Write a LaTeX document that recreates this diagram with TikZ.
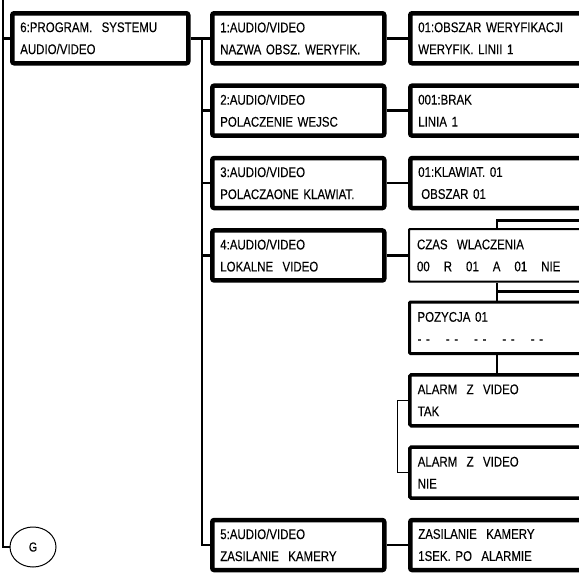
\documentclass[tikz,border=0pt]{standalone}
\usepackage{fontspec}
\setmainfont[FakeStretch=0.82,FakeBold=0.2]{Liberation Sans}
\usetikzlibrary{positioning,calc,shapes.geometric}
\tikzset{
  % menu boxes with heavy frames
  menubox/.style={draw, line width=4.5pt, rounded corners=2pt, anchor=north west,
    minimum height=50pt, inner xsep=6pt, inner ysep=0pt, align=left,
    font=\fontsize{14}{22}\selectfont},
  sysbox/.style={menubox, minimum width=176pt, text width=160pt},
  midbox/.style={menubox, minimum width=172pt, text width=156pt},
  valbox/.style={menubox, minimum width=200pt, text width=184pt},
  % lighter frames down the video branch
  thinbox/.style={valbox, line width=2pt, rounded corners=0.5pt, minimum height=52.5pt},
  posbox/.style={valbox, line width=3pt, rounded corners=1pt, minimum height=51.5pt},
  alarmbox/.style={valbox, line width=3.5pt, rounded corners=1.5pt, minimum height=51pt},
  % connectors
  link/.style={line width=2.5pt},
  thinlink/.style={line width=1.3pt},
  backln/.style={line width=3pt},
}
\newcommand{\dashgap}{\hspace{16pt}}
\begin{document}
\begin{tikzpicture}[x=1pt, y=-1pt]
  \useasboundingbox (0,0) rectangle (579,573);
  \clip (0,0) rectangle (579,573);
  % helper columns
  \coordinate (rail) at (3,0);
  \coordinate (trunk) at (202,0);
  \coordinate (stk) at (497,0);
  \coordinate (brk) at (397,0);
  % main menu and exit
  \node[sysbox] (prog) at (10,11) {6:PROGRAM.~~SYSTEMU\\AUDIO/VIDEO};
  \node[ellipse, draw, line width=1pt, minimum width=46pt, minimum height=40pt,
    font=\fontsize{13}{13}\selectfont] (exit) at (33,547) {G};
  % sub-menus
  \node[midbox] (av1) at (210,11) {1:AUDIO/VIDEO\\NAZWA OBSZ. WERYFIK.};
  \node[midbox] (av2) at (210,83.4) {2:AUDIO/VIDEO\\POLACZENIE WEJSC};
  \node[midbox] (av3) at (210,155.8) {3:AUDIO/VIDEO\\POLACZAONE KLAWIAT.};
  \node[midbox] (av4) at (210,228.2) {4:AUDIO/VIDEO\\LOKALNE~~VIDEO};
  \node[midbox] (av5) at (210,517.8) {5:AUDIO/VIDEO\\ZASILANIE~~KAMERY};
  % values
  \node[valbox] (weryf) at (408,11) {01:OBSZAR WERYFIKACJI\\WERYFIK. LINII 1};
  \node[valbox] (brak) at (408,83.4) {001:BRAK\\LINIA 1};
  \node[valbox] (klaw) at (408,155.8) {01:KLAWIAT. 01\\\hspace{3pt}OBSZAR 01};
  \node[thinbox] (czas) at (408,228.2) {CZAS~~WLACZENIA\\00~~~R~~~01~~~A~~~01~~~NIE};
  \node[posbox] (poz) at (408,300.6)
    {POZYCJA 01\\-~-\dashgap-~-\dashgap-~-\dashgap-~-\dashgap-~-};
  \node[alarmbox] (tak) at (408,373) {ALARM~~Z~~VIDEO\\TAK};
  \node[alarmbox] (nie) at (408,445.4) {ALARM~~Z~~VIDEO\\NIE};
  \node[valbox] (zasil) at (408,517.8) {ZASILANIE~~KAMERY\\1SEK. PO~~ALARMIE};
  % left rail
  \draw[link] (rail) |- (exit.west);
  \draw[link] (prog.west -| rail) -- (prog.west);
  % trunk to the sub-menus
  \draw[link] (prog.east) -- (av1.west);
  \draw[link] (prog.east -| trunk) |- (av5.west);
  \foreach \b in {av2,av3,av4}
    \draw[link] (\b.west -| trunk) -- (\b.west);
  % sub-menus to values
  \foreach \a/\b in {av1/weryf,av2/brak,av3/klaw,av4/czas,av5/zasil}
    \draw[link] (\a.east) -- (\a.east -| \b.west);
  % cards stacked behind the timer entry
  \draw[thinlink] (czas.north -| stk) -- (stk |- 0,219);
  \draw[backln] (stk |- 0,220) -- (600,220);
  \draw[thinlink] (czas.south -| stk) -- (poz.north -| stk);
  \draw[backln] (stk |- 0,291) -- (600,291);
  \draw[link] (poz.south -| stk) -- (tak.north -| stk);
  % alarm choice bracket
  \draw[line width=1pt] (tak.west) -- (tak.west -| brk) -- (nie.west -| brk) -- (nie.west);
\end{tikzpicture}
\end{document}
